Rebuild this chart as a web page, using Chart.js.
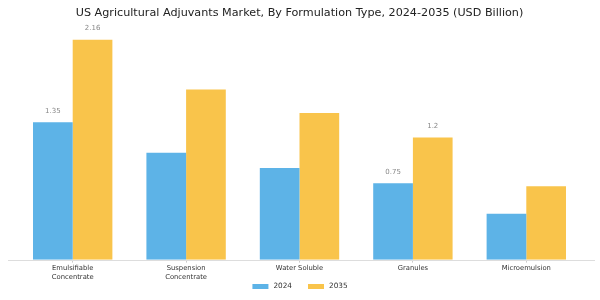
<!DOCTYPE html>
<html>
<head>
<meta charset="utf-8">
<script src="https://cdn.jsdelivr.net/npm/chart.js@4/dist/chart.umd.min.js"></script>
<style>
html,body{margin:0;padding:0;background:#fff;}
#wrap{width:600px;height:300px;}
</style>
</head>
<body>
<div id="wrap"><canvas id="c" width="600" height="300"></canvas></div>
<script>
const categories = [["Emulsifiable","Concentrate"],["Suspension","Concentrate"],"Water Soluble","Granules","Microemulsion"];
const values2024 = [1.35, 1.05, 0.90, 0.75, 0.45];
const values2035 = [2.16, 1.67, 1.44, 1.2, 0.72];
const labels2024 = ["1.35", "", "", "0.75", ""];
const labels2035 = ["2.16", "", "", "1.2", ""];
const seriesNames = ["2024", "2035"];

const FONT = "'DejaVu Sans', sans-serif";

const valueLabelPlugin = {
  id: 'valueLabels',
  afterDatasetsDraw(chart) {
    const ctx = chart.ctx;
    const texts = [labels2024, labels2035];
    ctx.save();
    ctx.font = "7px " + FONT;
    ctx.fillStyle = "#888888";
    ctx.textAlign = "center";
    ctx.textBaseline = "middle";
    chart.data.datasets.forEach((ds, di) => {
      const meta = chart.getDatasetMeta(di);
      meta.data.forEach((bar, i) => {
        const t = texts[di][i];
        if (t) ctx.fillText(t, bar.x, bar.y - 11);
      });
    });
    ctx.restore();
  }
};

const axisLinePlugin = {
  id: 'axisLine',
  afterDatasetsDraw(chart) {
    const ctx = chart.ctx;
    const a = chart.chartArea;
    const y = chart.scales.y.getPixelForValue(0);
    ctx.save();
    ctx.strokeStyle = "#dddddd";
    ctx.lineWidth = 1;
    ctx.beginPath();
    ctx.moveTo(a.left - 8, Math.round(y) + 0.5);
    ctx.lineTo(a.right + 12, Math.round(y) + 0.5);
    ctx.stroke();
    ctx.restore();
  }
};

const customLegendPlugin = {
  id: 'customLegend',
  afterDraw(chart) {
    const ctx = chart.ctx;
    const boxW = 16, boxH = 5, gapText = 5, gapItem = 16;
    const cy = chart.height - 13.5;
    ctx.save();
    ctx.font = "7.3px " + FONT;
    const items = chart.data.datasets.map(ds => ({ text: ds.label, color: ds.backgroundColor, w: ctx.measureText(ds.label).width }));
    let total = 0;
    items.forEach((it, i) => { total += boxW + gapText + it.w + (i < items.length - 1 ? gapItem : 0); });
    let x = chart.width / 2 - total / 2;
    ctx.textBaseline = "middle";
    ctx.textAlign = "left";
    items.forEach(it => {
      ctx.fillStyle = it.color;
      ctx.fillRect(x, cy - boxH / 2, boxW, boxH);
      x += boxW + gapText;
      ctx.fillStyle = "#333333";
      ctx.fillText(it.text, x, cy);
      x += it.w + gapItem;
    });
    ctx.restore();
  }
};

new Chart(document.getElementById('c'), {
  type: 'bar',
  data: {
    labels: categories,
    datasets: [
      { label: seriesNames[0], data: values2024, backgroundColor: '#5db3e7', borderWidth: 0 },
      { label: seriesNames[1], data: values2035, backgroundColor: '#f9c44b', borderWidth: 0 }
    ]
  },
  options: {
    responsive: false,
    animation: false,
    devicePixelRatio: 1,
    layout: { padding: { left: 16, right: 17, top: 0, bottom: 17 } },
    datasets: { bar: { categoryPercentage: 0.7, barPercentage: 1.0 } },
    plugins: {
      title: {
        display: true,
        text: 'US Agricultural Adjuvants Market, By Formulation Type, 2024-2035 (USD Billion)',
        color: '#222222',
        font: { family: FONT, size: 11.2, weight: 'normal' },
        padding: { top: 6, bottom: 7 }
      },
      legend: { display: false },
      tooltip: { enabled: false }
    },
    scales: {
      x: {
        grid: { display: true, drawOnChartArea: false, offset: false, tickLength: 3, color: '#cccccc' },
        border: { display: false },
        ticks: { color: '#333333', font: { family: FONT, size: 6.8, lineHeight: 1.35 }, padding: 1, maxRotation: 0, autoSkip: false }
      },
      y: {
        display: false,
        min: 0,
        max: 2.29
      }
    }
  },
  plugins: [valueLabelPlugin, axisLinePlugin, customLegendPlugin]
});
</script>
</body>
</html>
